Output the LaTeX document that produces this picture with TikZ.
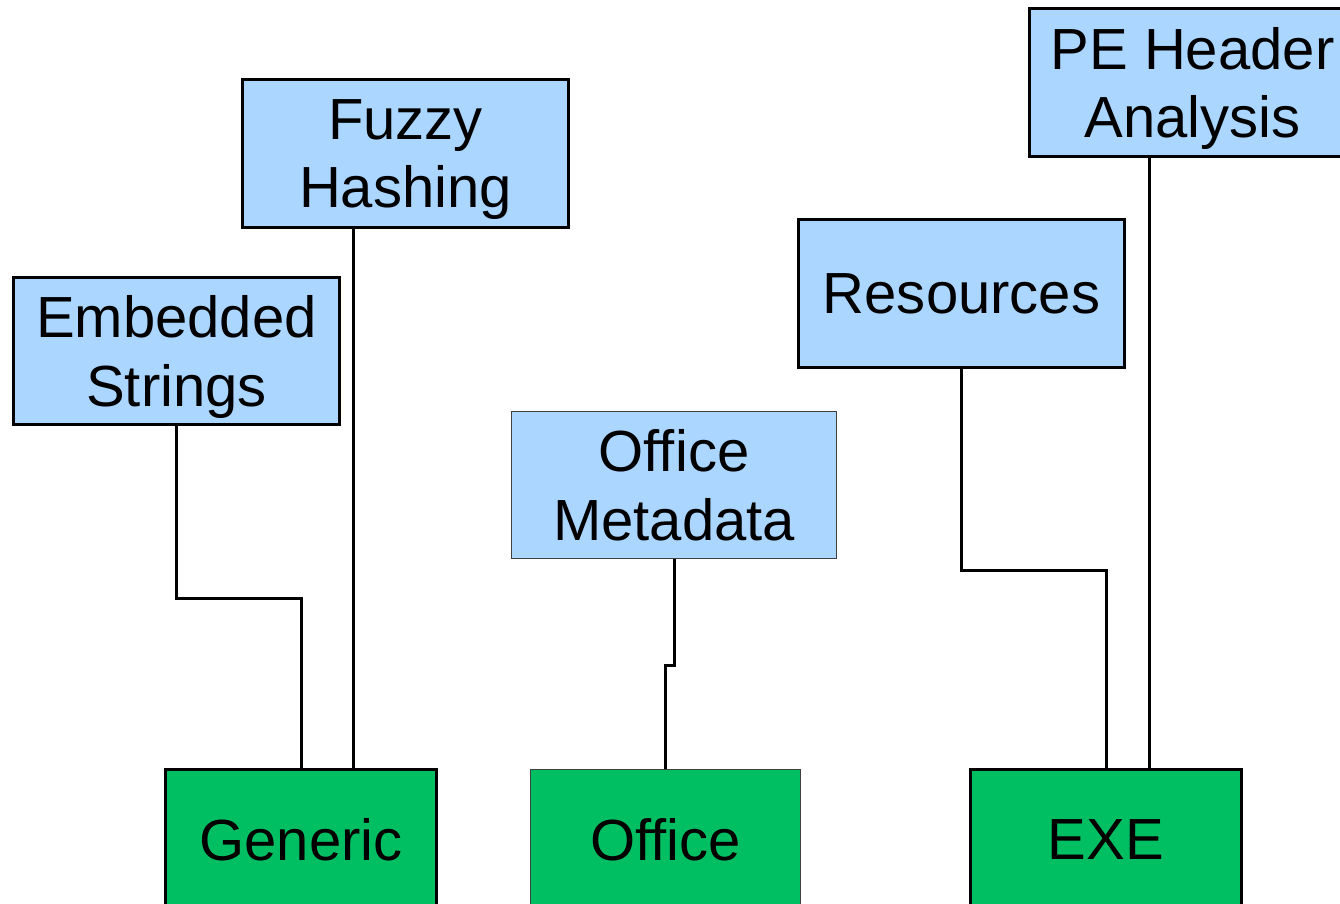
\documentclass[tikz,border=0pt]{standalone}
\usepackage{fontspec}
\setmainfont{Liberation Sans}
\definecolor{featblue}{RGB}{170,214,255}
\definecolor{typegreen}{RGB}{0,191,99}
\begin{document}
\begin{tikzpicture}[x = 0.01cm, y = -0.01cm, line width = 0.85pt,
    featbox/.style = {draw, fill=featblue, minimum width=3.25cm, minimum height=1.47cm,
        inner sep=0pt, align=center, text depth=0pt, font=\fontsize{16.5}{19.4}\selectfont},
    typebox/.style = {draw, fill=typegreen, minimum width=2.7cm, minimum height=1.4cm,
        inner sep=0pt, font=\fontsize{16.5}{19.4}\selectfont},
    thinbox/.style = {line width=0.3pt, draw=black!75}]
    \useasboundingbox (0,0) rectangle (1340,904);
    % file types
    \node[typebox] (generic) at (301,840) {Generic};
    \node[typebox, thinbox] (office) at (665.5,840) {Office};
    \node[typebox] (exe) at (1106,840) {EXE};
    % features
    \node[featbox] (embedded) at (176.5,351) {Embedded\\Strings};
    \node[featbox] (fuzzy) at (405.5,153.5) {Fuzzy\\Hashing};
    \node[featbox, thinbox] (officemeta) at (674,485) {Office\\Metadata};
    \node[featbox] (resources) at (961.5,293.5) {Resources};
    \node[featbox] (peheader) at (1192.5,82.5) {PE Header\\Analysis};
    % links
    \draw (embedded.south) -- ++(0,172) -| (generic.north);
    \draw ([xshift=0.52cm]generic.north) -- ([xshift=0.52cm]generic.north |- fuzzy.south);
    \draw (officemeta.south) -- ++(0,106) -| (office.north);
    \draw (resources.south) -- ++(0,202) -| (exe.north);
    \draw ([xshift=0.43cm]exe.north) -- ([xshift=0.43cm]exe.north |- peheader.south);
\end{tikzpicture}
\end{document}
